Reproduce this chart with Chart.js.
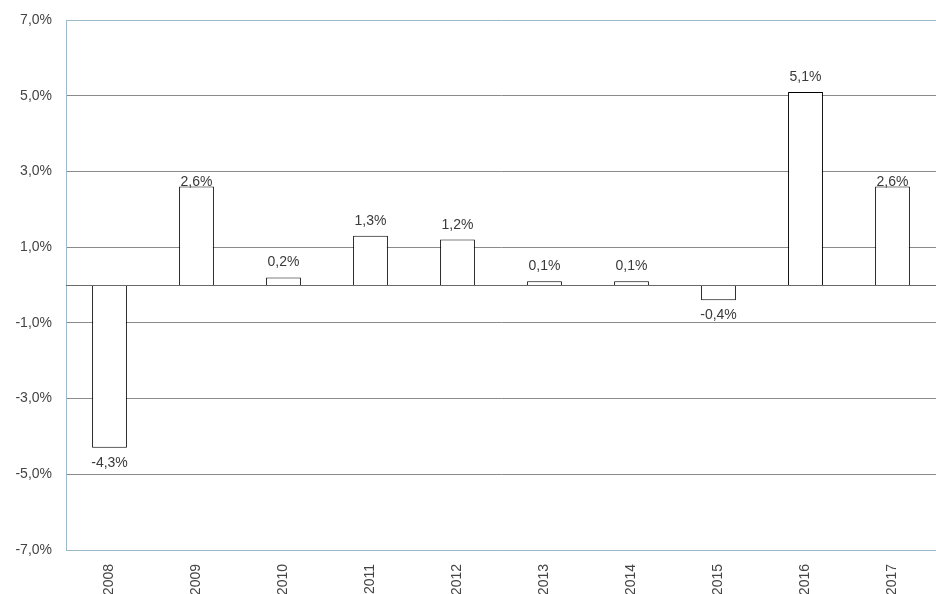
<!DOCTYPE html>
<html>
<head>
<meta charset="utf-8">
<script src="https://cdn.jsdelivr.net/npm/chart.js@4"></script>
<style>
  html, body { margin: 0; padding: 0; background: #fff; }
  #wrap { width: 936px; height: 594px; }
</style>
</head>
<body>
<div id="wrap"><canvas id="chart" width="936" height="594"></canvas></div>
<script>
const years = ["2008", "2009", "2010", "2011", "2012", "2013", "2014", "2015", "2016", "2017"];
const growth = [-4.3, 2.6, 0.2, 1.3, 1.2, 0.1, 0.1, -0.4, 5.1, 2.6];

const FONT = "'Liberation Sans', Arial, sans-serif";
const fmt = v => v.toFixed(1).replace(".", ",") + "%";

// zero line + value labels (label moves down onto the bar if it would sit on a gridline)
const extras = {
  id: "extras",
  afterDatasetsDraw(chart) {
    const { ctx, chartArea, scales } = chart;
    const y0 = Math.round(scales.y.getPixelForValue(0)) + 0.5;
    ctx.save();
    ctx.strokeStyle = "#6a6a6a";
    ctx.lineWidth = 1;
    ctx.beginPath();
    ctx.moveTo(chartArea.left, y0);
    ctx.lineTo(chartArea.right, y0);
    ctx.stroke();

    const meta = chart.getDatasetMeta(0);
    const gridYs = scales.y.ticks.map(t => scales.y.getPixelForValue(t.value));
    ctx.font = "14px " + FONT;
    ctx.fillStyle = "#3a3a3a";
    ctx.textAlign = "center";
    ctx.textBaseline = "alphabetic";
    meta.data.forEach((bar, i) => {
      const v = growth[i];
      let base;
      if (v >= 0) {
        base = bar.y - 11;
        if (gridYs.some(g => g > base - 12 && g < base + 2)) base = bar.y - 1;
      } else {
        base = bar.y + 19;
      }
      ctx.fillText(fmt(v), bar.x, base);
    });
    ctx.restore();
  }
};

new Chart(document.getElementById("chart"), {
  type: "bar",
  data: {
    labels: years,
    datasets: [{
      data: growth,
      backgroundColor: "#fff",
      borderColor: "#000",
      borderWidth: 1,
      barPercentage: 0.8,
      categoryPercentage: 0.5
    }]
  },
  options: {
    responsive: false,
    animation: false,
    layout: { padding: { top: 20, right: 0, left: 0, bottom: 0 } },
    plugins: { legend: { display: false }, tooltip: { enabled: false } },
    scales: {
      x: {
        grid: { display: false },
        border: { color: "#9db8c8" },
        ticks: {
          color: "#444",
          font: { family: FONT, size: 14 },
          minRotation: 90,
          maxRotation: 90,
          padding: 6
        },
        afterFit: s => { s.height = 44; }
      },
      y: {
        min: -7,
        max: 7,
        border: { color: "#9db8c8" },
        grid: {
          drawTicks: false,
          color: c => (c.tick.value === 7 || c.tick.value === -7) ? "#9db8c8" : "#8a8a8a"
        },
        ticks: {
          stepSize: 2,
          color: "#444",
          font: { family: FONT, size: 14 },
          padding: 14,
          callback: v => fmt(v)
        },
        afterFit: s => { s.width = 66; s.paddingTop = 0; s.paddingBottom = 0; }
      }
    }
  },
  plugins: [extras]
});
</script>
</body>
</html>
